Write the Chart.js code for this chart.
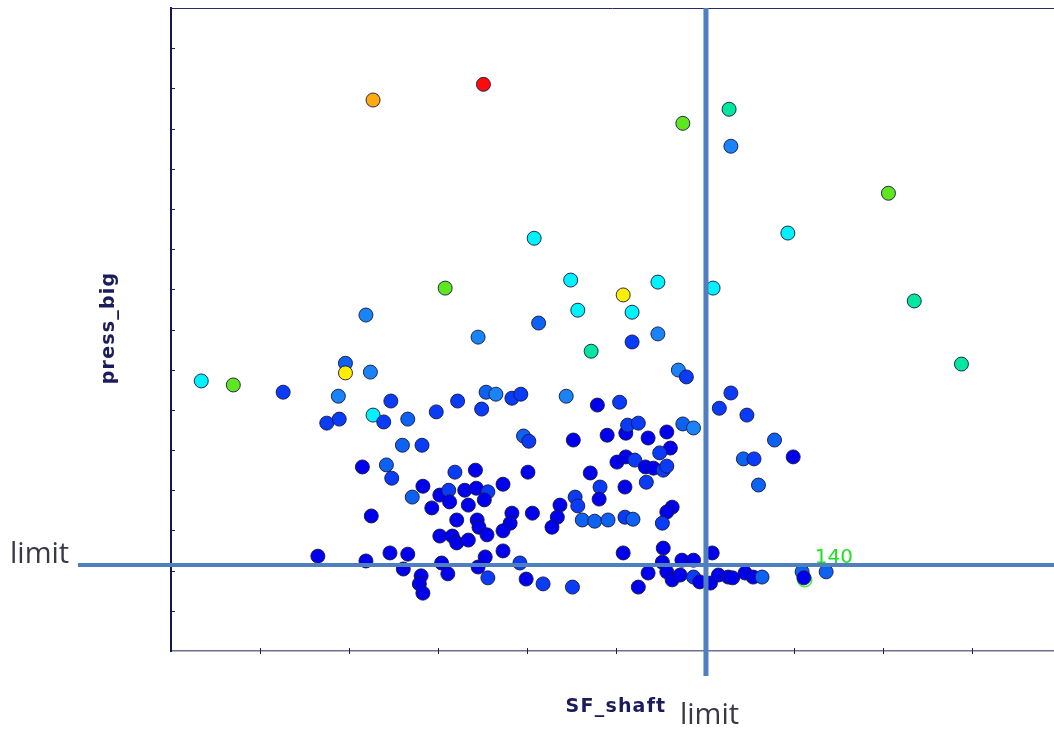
<!DOCTYPE html>
<html>
<head>
<meta charset="utf-8">
<script src="https://cdn.jsdelivr.net/npm/chart.js@4.4.1/dist/chart.umd.min.js"></script>
<style>
  html, body { margin: 0; padding: 0; background: #fff; }
  #wrap { width: 1054px; height: 729px; }
</style>
</head>
<body>
<div id="wrap"><canvas id="grafica" width="1054" height="729"></canvas></div>
<script>
// SF_shaft (x) for every point
const sfShaft = [
  2.27, 3.51, 5.75, 6.27, 6.29, 8.06, 4.08, 6.93, 4.49, 3.08,
  5.08, 5.47, 6.09, 4.57, 5.18, 8.35, 2.19, 4.13, 3.45, 5.47,
  5.18, 4.72, 8.88, 1.96, 1.96, 2.24, 0.34, 0.70, 1.26, 5.70,
  5.79, 1.88, 2.47, 1.75, 1.89, 2.27, 2.39, 2.66, 2.98, 3.22,
  3.54, 3.65, 3.49, 3.83, 3.93, 4.44, 4.79, 5.04, 2.60, 2.82,
  3.96, 4.02, 4.52, 4.90, 5.11, 5.13, 5.25, 5.36, 5.57, 5.75,
  5.87, 5.61, 5.49, 5.01, 5.11, 5.21, 5.33, 5.42, 5.53, 5.57,
  4.71, 5.34, 4.82, 5.10, 4.81, 4.54, 4.57, 4.37, 4.34, 4.28,
  4.62, 4.76, 4.91, 5.10, 5.19, 5.63, 5.57, 5.52, 6.29, 6.16,
  6.47, 6.78, 6.99, 6.43, 6.55, 6.60, 2.15, 2.42, 2.48, 2.25,
  3.19, 3.42, 4.01, 3.73, 2.83, 2.71, 3.02, 3.12, 3.13, 3.30,
  3.43, 3.56, 3.52, 3.34, 2.93, 3.21, 3.44, 3.46, 3.83, 3.81,
  4.06, 3.02, 3.16, 3.21, 3.34, 3.55, 3.73, 1.65, 2.19, 2.46,
  2.66, 2.61, 2.81, 2.79, 2.83, 3.04, 3.11, 3.53, 3.45, 3.56,
  3.73, 3.92, 3.99, 4.18, 4.51, 5.08, 5.53, 5.52, 5.74, 5.87,
  6.08, 5.36, 5.25, 5.57, 5.63, 5.72, 5.87, 5.94, 6.06, 6.15,
  6.26, 6.31, 6.45, 6.54, 6.64, 7.09, 7.11, 7.36
];

// press_big (y)
const pressBig = [
  13.71, 14.10, 13.13, 13.48, 12.56, 11.39, 10.27, 10.40, 9.23, 9.03,
  8.86, 9.18, 9.03, 8.48, 8.43, 8.71, 8.36, 8.16, 7.81, 7.89,
  7.69, 7.46, 7.14, 7.16, 6.92, 6.94, 6.72, 6.62, 6.44, 6.99,
  6.82, 6.34, 6.22, 5.67, 5.77, 5.87, 5.70, 5.77, 5.95, 6.22,
  6.44, 6.39, 6.02, 6.29, 6.39, 6.34, 6.12, 6.19, 5.12, 5.12,
  5.35, 5.22, 5.25, 5.37, 5.42, 5.62, 5.67, 5.30, 5.45, 5.65,
  5.55, 5.05, 4.93, 4.70, 4.83, 4.75, 4.58, 4.55, 4.50, 4.60,
  4.43, 4.20, 4.08, 4.08, 3.78, 3.83, 3.61, 3.63, 3.33, 3.08,
  3.26, 3.23, 3.26, 3.33, 3.28, 3.58, 3.46, 3.18, 6.42, 6.04,
  5.87, 5.25, 4.83, 4.78, 4.78, 4.13, 4.58, 4.63, 4.30, 3.36,
  4.45, 4.50, 4.45, 4.15, 4.10, 3.83, 3.88, 4.00, 3.71, 4.00,
  4.05, 3.96, 3.76, 3.63, 3.56, 3.26, 3.26, 3.08, 3.43, 3.18,
  3.43, 2.86, 2.86, 2.69, 2.76, 2.89, 2.99, 2.36, 2.24, 2.44,
  2.41, 2.04, 1.87, 1.67, 1.44, 2.19, 1.92, 2.34, 2.09, 1.82,
  2.49, 2.19, 1.79, 1.67, 1.59, 2.44, 2.56, 2.21, 2.26, 2.26,
  2.44, 1.94, 1.59, 1.97, 1.77, 1.89, 1.84, 1.72, 1.69, 1.89,
  1.84, 1.82, 1.94, 1.84, 1.84, 1.97, 1.82, 1.97
];

// colour class of each point (0 = low ... 9 = high)
const colorLevel = [
  8, 9, 6, 5, 3, 6, 4, 4, 4, 6,
  7, 4, 4, 4, 4, 5, 3, 2, 3, 3,
  1, 5, 5, 2, 7, 3, 4, 6, 1, 3,
  1, 3, 1, 1, 1, 4, 1, 2, 1, 1,
  2, 3, 1, 1, 1, 3, 0, 1, 2, 1,
  2, 1, 0, 0, 0, 1, 1, 0, 0, 2,
  3, 0, 1, 0, 0, 1, 0, 0, 1, 1,
  0, 1, 1, 0, 0, 1, 1, 0, 0, 0,
  2, 2, 2, 1, 2, 0, 0, 1, 1, 1,
  1, 2, 0, 2, 1, 2, 0, 2, 1, 0,
  1, 0, 0, 0, 0, 2, 0, 1, 0, 0,
  0, 1, 0, 0, 0, 0, 0, 0, 0, 0,
  0, 0, 0, 0, 0, 0, 0, 0, 0, 0,
  0, 0, 0, 0, 0, 0, 0, 0, 0, 1,
  0, 1, 0, 1, 1, 0, 0, 0, 0, 0,
  0, 0, 0, 0, 0, 0, 1, 0, 0, 0,
  0, 0, 0, 0, 2, 2, 0, 2
];

const levelColors = ['#0000ee', '#0a3cf8', '#0e62f2', '#1a84f6', '#00f2fc',
                     '#00e8a0', '#5ee61e', '#ffee00', '#ffaa10', '#ff0a0a'];

// limits and highlighted point
const sfLimit = 6.01;
const pressLimit = 2.14;
const highlightX = [7.12];
const highlightY = [1.77];
const highlightLabel = ['140'];

const xRange = [0, 9.92];
const yRange = [0, 16];

const marcos = {
  id: 'marcos',
  afterDatasetsDraw(chart) {
    const { ctx, chartArea: a, scales: { x, y } } = chart;
    ctx.save();
    // top border
    ctx.strokeStyle = '#2a2a66';
    ctx.lineWidth = 1;
    ctx.beginPath();
    ctx.moveTo(a.left, a.top + 0.5);
    ctx.lineTo(a.right, a.top + 0.5);
    ctx.stroke();
    // tick marks
    ctx.strokeStyle = '#1c1c5a';
    ctx.beginPath();
    for (let v = yRange[0] + 1; v < yRange[1]; v++) {
      const py = Math.round(y.getPixelForValue(v)) + 0.5;
      ctx.moveTo(a.left, py);
      ctx.lineTo(a.left + 4, py);
    }
    for (let v = xRange[0] + 1; v < xRange[1]; v++) {
      const px = Math.round(x.getPixelForValue(v)) + 0.5;
      ctx.moveTo(px, a.bottom - 3);
      ctx.lineTo(px, a.bottom + 3);
    }
    ctx.stroke();
    // limit lines
    const lx = x.getPixelForValue(sfLimit);
    const ly = y.getPixelForValue(pressLimit);
    ctx.strokeStyle = '#4f7fbe';
    ctx.lineWidth = 4;
    ctx.beginPath();
    ctx.moveTo(a.left - 93, ly);
    ctx.lineTo(chart.width, ly);
    ctx.stroke();
    ctx.lineWidth = 5;
    ctx.beginPath();
    ctx.moveTo(lx, a.top);
    ctx.lineTo(lx, a.bottom + 25);
    ctx.stroke();
    ctx.restore();
  },
  afterDraw(chart) {
    const { ctx, scales: { x, y } } = chart;
    const lx = x.getPixelForValue(sfLimit);
    const ly = y.getPixelForValue(pressLimit);
    ctx.save();
    // limit labels
    ctx.fillStyle = '#383848';
    ctx.font = '29px "Open Sans"';
    ctx.textBaseline = 'alphabetic';
    ctx.textAlign = 'left';
    ctx.fillText('limit', 10, ly - 2);
    ctx.fillText('limit', lx - 26, 724);
    // axis titles
    ctx.fillStyle = '#1c1c5c';
    ctx.font = 'bold 19px "DejaVu Sans"';
    ctx.letterSpacing = '1.2px';
    ctx.textAlign = 'center';
    ctx.fillText('SF_shaft', 616, 712);
    ctx.translate(114, 328);
    ctx.rotate(-Math.PI / 2);
    ctx.fillText('press_big', 0, 0);
    ctx.restore();
    // highlighted point label
    ctx.save();
    ctx.fillStyle = '#22e022';
    ctx.font = '20px "DejaVu Sans"';
    highlightX.forEach((hx, i) => {
      const px = x.getPixelForValue(hx);
      const py = y.getPixelForValue(highlightY[i]);
      ctx.fillText(highlightLabel[i], px + 10, py - 17);
    });
    ctx.restore();
  }
};

const grafica = document.getElementById('grafica');
new Chart(grafica, {
  type: 'scatter',
  data: {
    datasets: [{
      data: sfShaft.map((v, i) => ({ x: v, y: pressBig[i] })),
      pointRadius: 7,
      pointHoverRadius: 7,
      pointBorderWidth: 1,
      pointBorderColor: 'rgba(22,22,70,0.9)',
      pointBackgroundColor: colorLevel.map(l => levelColors[l]),
      order: 1
    }, {
      data: highlightX.map((v, i) => ({ x: v, y: highlightY[i] })),
      pointRadius: 7,
      pointBorderWidth: 1.5,
      pointBorderColor: '#44ee44',
      pointBackgroundColor: 'rgba(0,0,0,0)',
      order: 2
    }]
  },
  options: {
    responsive: false,
    animation: false,
    layout: { autoPadding: false, padding: { left: 171, top: 8, right: 0, bottom: 78 } },
    scales: {
      x: {
        type: 'linear',
        min: xRange[0],
        max: xRange[1],
        ticks: { display: false },
        grid: { display: false, drawTicks: false },
        border: { color: '#6e6e96', width: 1.5 }
      },
      y: {
        type: 'linear',
        min: yRange[0],
        max: yRange[1],
        ticks: { display: false },
        grid: { display: false, drawTicks: false },
        border: { color: '#16164f', width: 2 }
      }
    },
    plugins: {
      legend: { display: false },
      tooltip: { enabled: false }
    }
  },
  plugins: [marcos]
});
</script>
</body>
</html>
